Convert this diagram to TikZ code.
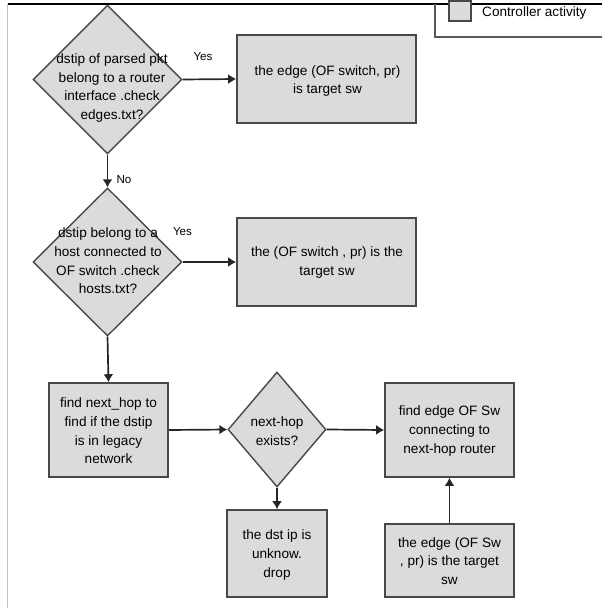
\documentclass[tikz,border=0pt]{standalone}
\usepackage{fontspec}
\setmainfont{Liberation Sans}
\usetikzlibrary{shapes.geometric,arrows.meta}
\definecolor{actfill}{HTML}{DADBDD}
\definecolor{actline}{HTML}{484848}
\definecolor{flow}{HTML}{262626}
\tikzset{
  every node/.style={font=\fontsize{13.6}{18.6}\selectfont, inner sep=0pt},
  actbox/.style={draw=actline, line width=1.6pt, fill=actfill, rectangle},
  decision/.style={draw=actline, line width=1.4pt, fill=actfill, diamond, inner sep=0pt},
  flowarrow/.style={draw=flow, line width=1.7pt, -{Latex[length=8pt,width=10pt]}},
  branch/.style={font=\fontsize{11.6}{13}\selectfont},
  txt/.style={align=center}
}
\begin{document}
\begin{tikzpicture}[x=1pt,y=-1pt]
\useasboundingbox (0,0) rectangle (602,608);

% frame and legend
\draw[draw=black!25, line width=0.8pt] (7.5,4) -- (7.5,608);
\draw[draw=black, line width=1.1pt] (7.5,4) -- (602,4);
\draw[draw=black!65, line width=1.1pt] (435,4) -- (435,37) -- (602,37);
\node[actbox, line width=1.3pt, minimum width=22pt, minimum height=20pt] (legsq) at (460,11) {};
\node[anchor=west] (legtxt) at (482,13) {Controller activity};

% decisions
\node[decision, minimum width=149pt, minimum height=149pt] (d1) at (107.5,79.5) {};
\node[txt] (d1t) at (112,88) {dstip of parsed pkt\\belong to a router\\interface .check\\edges.txt?};
\node[decision, minimum width=149pt, minimum height=148pt] (d2) at (107.5,262) {};
\node[txt] (d2t) at (108,261) {dstip belong to a\\host connected to\\OF switch .check\\hosts.txt?};
\node[decision, minimum width=98pt, minimum height=115pt] (d3) at (277,429.5) {};
\node[txt] (d3t) at (277,431) {next-hop\\exists?};

% activities
\node[actbox, minimum width=179pt, minimum height=88pt] (b1) at (326.5,79) {};
\node[txt] (b1t) at (327.5,81) {the edge (OF switch, pr)\\is target sw};
\node[actbox, minimum width=179pt, minimum height=88pt] (b2) at (326.5,262) {};
\node[txt] (b2t) at (327,262.5) {the (OF switch , pr) is the\\target sw};
\node[actbox, minimum width=119pt, minimum height=94pt] (b3) at (108.5,430) {};
\node[txt] (b3t) at (108.5,431) {find next\_hop to\\find if the dstip\\is in legacy\\network};
\node[actbox, minimum width=100pt, minimum height=87pt] (b4) at (277,553.5) {};
\node[txt] (b4t) at (277,555) {the dst ip is\\unknow.\\drop};
\node[actbox, minimum width=129pt, minimum height=94pt] (b5) at (449.5,430) {};
\node[txt] (b5t) at (449.5,431) {find edge OF Sw\\connecting to\\next-hop router};
\node[actbox, minimum width=129pt, minimum height=73pt] (b6) at (449.5,560.5) {};
\node[txt] (b6t) at (449.5,561) {the edge (OF Sw\\, pr) is the target\\sw};

% flow
\draw[flowarrow] (d1.south) -- (d2.north);
\draw[flowarrow] (d1.east) -- (b1.west);
\draw[flowarrow] (d2.east) -- (b2.west);
\draw[flowarrow] (d2.south) -- (b3.north);
\draw[flowarrow] (b3.east) -- (d3.west);
\draw[flowarrow] (d3.east) -- (b5.west);
\draw[flowarrow] (d3.south) -- (b4.north);
\draw[flowarrow] (b6.north) -- (b5.south);

% branch labels
\node[branch] (yes1) at (203,57) {Yes};
\node[branch] (no1) at (124,180) {No};
\node[branch] (yes2) at (182.5,232) {Yes};
\end{tikzpicture}
\end{document}
